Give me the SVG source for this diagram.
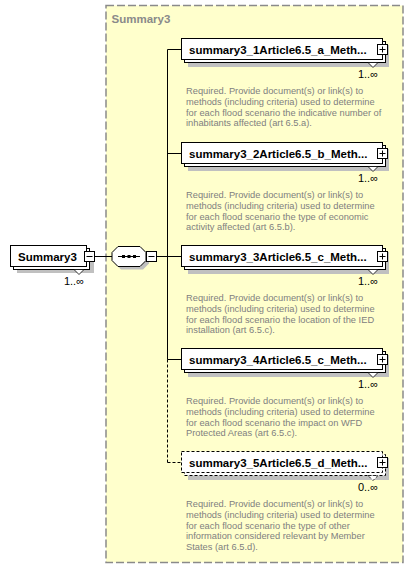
<svg xmlns="http://www.w3.org/2000/svg" width="414" height="569" viewBox="0 0 414 569">
<defs>
<style>
.bg{fill:#ffffff}
.grp{fill:#ffffcc;stroke:#8a8a8a;stroke-width:1.5;stroke-dasharray:8,3}
.glabel{font-family:"Liberation Sans",Arial,sans-serif;font-size:11.5px;font-weight:bold;fill:#8a8a8a}
.shadow{fill:#c0c0c0}
.box{fill:#ffffff;stroke:#000000;stroke-width:1}
.opt{stroke-dasharray:3,2}
.name{font-family:"Liberation Sans",Arial,sans-serif;font-size:11.5px;font-weight:bold;fill:#000000}
.mult{font-family:"Liberation Sans",Arial,sans-serif;font-size:11px;fill:#000000;text-anchor:end}
.desc{font-family:"Liberation Sans",Arial,sans-serif;font-size:9.3px;fill:#808080}
.notch{fill:#ffffff;stroke:#000000;stroke-width:0.8}
.pm{fill:#ffffff;stroke:#000000;stroke-width:1}
.pml{stroke:#000000;stroke-width:1;fill:none}
.conn{stroke:#000000;stroke-width:1;fill:none}
.dash{stroke-dasharray:3,2}
</style>
</defs>
<rect class="bg" x="0" y="0" width="414" height="569"/>
<g id="group-summary3">
<rect class="grp" x="106" y="5.5" width="297" height="557"/>
<text class="glabel" x="111.5" y="22.5">Summary3</text>
</g>
<g id="connectors">
<line class="conn" x1="94.5" y1="256.5" x2="112" y2="256.5"/>
<line class="conn" x1="156.5" y1="256.5" x2="181" y2="256.5"/>
<line class="conn" x1="167.5" y1="49.5" x2="167.5" y2="359.5"/>
<line class="conn dash" x1="167.5" y1="359.5" x2="167.5" y2="462.5"/>
<line class="conn" x1="167.5" y1="49.5" x2="181" y2="49.5"/>
<line class="conn" x1="167.5" y1="153.5" x2="181" y2="153.5"/>
<line class="conn" x1="167.5" y1="359.5" x2="181" y2="359.5"/>
<line class="conn dash" x1="167.5" y1="462.5" x2="181" y2="462.5"/>
</g>
<g id="node-Summary3">
<rect class="shadow" x="17" y="252" width="77" height="21"/>
<rect class="box" x="13.5" y="248.5" width="76" height="21"/>
<rect class="box" x="10.5" y="245.5" width="76" height="21"/>
<polygon class="notch" points="74,269.5 84,269.5 79,274.5"/>
<text class="name" x="18" y="261">Summary3</text>
<rect class="pm" x="84.5" y="251.5" width="10" height="10"/>
<line class="pml" x1="86.5" y1="256.5" x2="92.5" y2="256.5"/>
<text class="mult" x="84" y="285">1..∞</text>
</g>
<g id="compositor-sequence">
<polygon class="shadow" points="121,249.5 143,249.5 149,255.5 149,263.5 143,269.5 121,269.5 115,263.5 115,255.5"/>
<polygon class="box" points="118,246.5 140,246.5 146,252.5 146,260.5 140,266.5 118,266.5 112,260.5 112,252.5"/>
<line class="pml" x1="118" y1="256.5" x2="140" y2="256.5"/>
<rect x="122" y="255" width="3" height="3" fill="#000"/>
<rect x="127.5" y="255" width="3" height="3" fill="#000"/>
<rect x="133" y="255" width="3" height="3" fill="#000"/>
<rect class="pm" x="146.5" y="251.5" width="10" height="10"/>
<line class="pml" x1="148.5" y1="256.5" x2="154.5" y2="256.5"/>
</g>
<g id="node-summary3_1" transform="translate(181,38)">
<rect class="shadow" x="7" y="7" width="201" height="22"/>
<rect class="box" x="3.5" y="3.5" width="201" height="21"/>
<rect class="box" x="0.5" y="0.5" width="201" height="21"/>
<polygon class="notch" points="187,24.5 197,24.5 192,29.5"/>
<text class="name" x="8" y="16">summary3_1Article6.5_a_Meth...</text>
<rect class="pm" x="196.5" y="6.5" width="10" height="10"/>
<line class="pml" x1="198.5" y1="11.5" x2="204.5" y2="11.5"/>
<line class="pml" x1="201.5" y1="8.5" x2="201.5" y2="14.5"/>
<text class="mult" x="197" y="39.5">1..∞</text>
<text class="desc" x="5" y="56">Required. Provide document(s) or link(s) to</text>
<text class="desc" x="5" y="66.8">methods (including criteria) used to determine</text>
<text class="desc" x="5" y="77.6">for each flood scenario the indicative number of</text>
<text class="desc" x="5" y="88.4">inhabitants affected (art 6.5.a).</text>
</g>
<g id="node-summary3_2" transform="translate(181,142)">
<rect class="shadow" x="7" y="7" width="201" height="22"/>
<rect class="box" x="3.5" y="3.5" width="201" height="21"/>
<rect class="box" x="0.5" y="0.5" width="201" height="21"/>
<polygon class="notch" points="187,24.5 197,24.5 192,29.5"/>
<text class="name" x="8" y="16">summary3_2Article6.5_b_Meth...</text>
<rect class="pm" x="196.5" y="6.5" width="10" height="10"/>
<line class="pml" x1="198.5" y1="11.5" x2="204.5" y2="11.5"/>
<line class="pml" x1="201.5" y1="8.5" x2="201.5" y2="14.5"/>
<text class="mult" x="197" y="39.5">1..∞</text>
<text class="desc" x="5" y="56">Required. Provide document(s) or link(s) to</text>
<text class="desc" x="5" y="66.8">methods (including criteria) used to determine</text>
<text class="desc" x="5" y="77.6">for each flood scenario the type of economic</text>
<text class="desc" x="5" y="88.4">activity affected (art 6.5.b).</text>
</g>
<g id="node-summary3_3" transform="translate(181,245)">
<rect class="shadow" x="7" y="7" width="201" height="22"/>
<rect class="box" x="3.5" y="3.5" width="201" height="21"/>
<rect class="box" x="0.5" y="0.5" width="201" height="21"/>
<polygon class="notch" points="187,24.5 197,24.5 192,29.5"/>
<text class="name" x="8" y="16">summary3_3Article6.5_c_Meth...</text>
<rect class="pm" x="196.5" y="6.5" width="10" height="10"/>
<line class="pml" x1="198.5" y1="11.5" x2="204.5" y2="11.5"/>
<line class="pml" x1="201.5" y1="8.5" x2="201.5" y2="14.5"/>
<text class="mult" x="197" y="39.5">1..∞</text>
<text class="desc" x="5" y="56">Required. Provide document(s) or link(s) to</text>
<text class="desc" x="5" y="66.8">methods (including criteria) used to determine</text>
<text class="desc" x="5" y="77.6">for each flood scenario the location of the IED</text>
<text class="desc" x="5" y="88.4">installation (art 6.5.c).</text>
</g>
<g id="node-summary3_4" transform="translate(181,348)">
<rect class="shadow" x="7" y="7" width="201" height="22"/>
<rect class="box" x="3.5" y="3.5" width="201" height="21"/>
<rect class="box" x="0.5" y="0.5" width="201" height="21"/>
<polygon class="notch" points="187,24.5 197,24.5 192,29.5"/>
<text class="name" x="8" y="16">summary3_4Article6.5_c_Meth...</text>
<rect class="pm" x="196.5" y="6.5" width="10" height="10"/>
<line class="pml" x1="198.5" y1="11.5" x2="204.5" y2="11.5"/>
<line class="pml" x1="201.5" y1="8.5" x2="201.5" y2="14.5"/>
<text class="mult" x="197" y="39.5">1..∞</text>
<text class="desc" x="5" y="56">Required. Provide document(s) or link(s) to</text>
<text class="desc" x="5" y="66.8">methods (including criteria) used to determine</text>
<text class="desc" x="5" y="77.6">for each flood scenario the impact on WFD</text>
<text class="desc" x="5" y="88.4">Protected Areas (art 6.5.c).</text>
</g>
<g id="node-summary3_5" transform="translate(181,451)">
<rect class="shadow" x="7" y="7" width="201" height="22"/>
<rect class="box opt" x="3.5" y="3.5" width="201" height="21"/>
<rect class="box opt" x="0.5" y="0.5" width="201" height="21"/>
<polygon class="notch opt" points="187,24.5 197,24.5 192,29.5"/>
<text class="name" x="8" y="16">summary3_5Article6.5_d_Meth...</text>
<rect class="pm" x="196.5" y="6.5" width="10" height="10"/>
<line class="pml" x1="198.5" y1="11.5" x2="204.5" y2="11.5"/>
<line class="pml" x1="201.5" y1="8.5" x2="201.5" y2="14.5"/>
<text class="mult" x="197" y="39.5">0..∞</text>
<text class="desc" x="5" y="56">Required. Provide document(s) or link(s) to</text>
<text class="desc" x="5" y="66.8">methods (including criteria) used to determine</text>
<text class="desc" x="5" y="77.6">for each flood scenario the type of other</text>
<text class="desc" x="5" y="88.4">information considered relevant by Member</text>
<text class="desc" x="5" y="99.2">States (art 6.5.d).</text>
</g>
</svg>
